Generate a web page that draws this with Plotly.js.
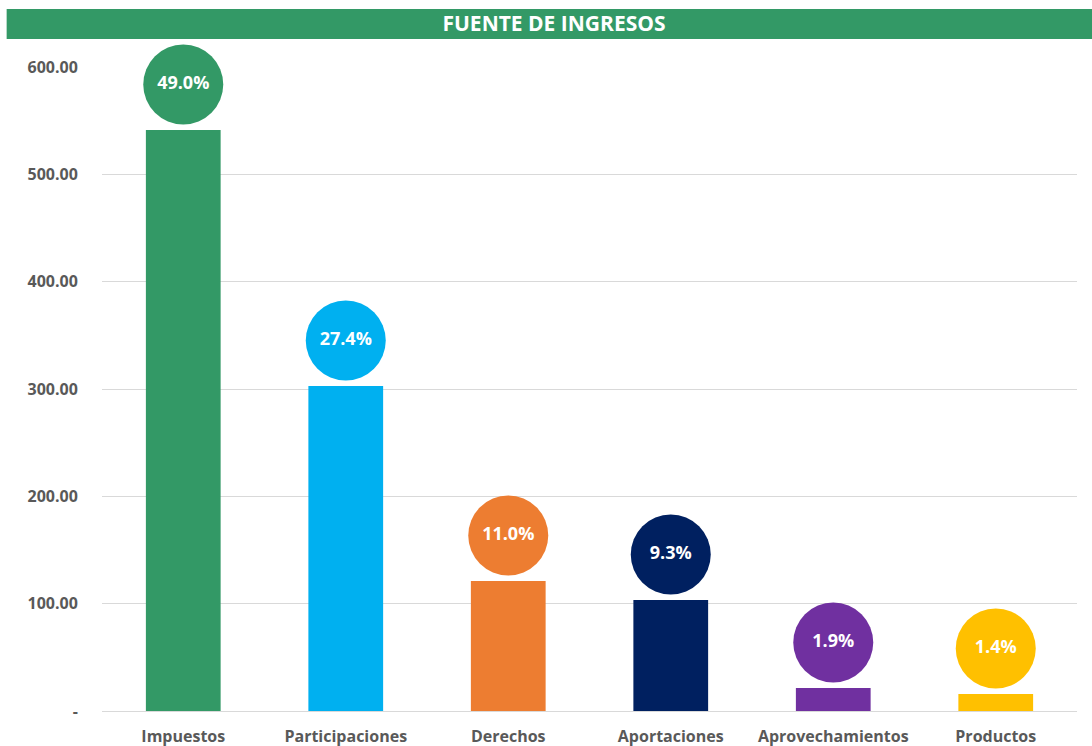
<!DOCTYPE html>
<html>
<head>
<meta charset="utf-8">
<script src="https://cdn.plot.ly/plotly-3.0.1.min.js"></script>
<style>html,body{margin:0;padding:0;background:#fff;}#chart{width:1092px;height:746px;}</style>
</head>
<body>
<div id="chart"></div>
<script>
const categories = ["Impuestos", "Participaciones", "Derechos", "Aportaciones", "Aprovechamientos", "Productos"];
const values = [541.3, 302.8, 121.1, 103.4, 21.4, 15.8];
const percentLabels = ["49.0%", "27.4%", "11.0%", "9.3%", "1.9%", "1.4%"];
const colors = ["#339966", "#00B0F0", "#ED7D31", "#002060", "#7030A0", "#FFC000"];
const yTickVals = [0, 100, 200, 300, 400, 500, 600];
const yTickText = ["-", "100.00", "200.00", "300.00", "400.00", "500.00", "600.00"];

const FONT = "'Open Sans', Lato, sans-serif";
const circleOffset = 42.4; // data units above bar top (~45px)

const bars = {
  type: "bar",
  x: categories,
  y: values,
  marker: {color: colors},
  hoverinfo: "x+y",
  cliponaxis: false
};
const circles = {
  type: "scatter",
  mode: "markers+text",
  x: categories,
  y: values.map(v => v + circleOffset),
  text: percentLabels,
  textposition: "middle center",
  textfont: {family: FONT, size: 18, color: "#ffffff", weight: "bold"},
  marker: {color: colors, size: 80, line: {width: 0}},
  cliponaxis: false,
  hoverinfo: "text"
};

const layout = {
  width: 1092, height: 746,
  margin: {l: 102, r: 15, t: 67, b: 35},
  paper_bgcolor: "#ffffff",
  plot_bgcolor: "#ffffff",
  showlegend: false,
  bargap: 0.54,
  title: {
    text: "<b>FUENTE DE INGRESOS</b>",
    font: {family: FONT, size: 21, color: "#ffffff"},
    xref: "paper", x: 0.4636, xanchor: "center",
    yref: "container", y: 1 - 24/746, yanchor: "middle"
  },
  shapes: [{
    type: "rect", xref: "paper", yref: "paper",
    x0: -0.0978, x1: 1.02, y0: 1.0435, y1: 1.0901,
    fillcolor: "#339966", line: {width: 0}, layer: "below"
  }],
  xaxis: {
    type: "category",
    range: [-0.5, 5.5],
    tickfont: {family: FONT, size: 16, color: "#595959", weight: "bold"},
    ticks: "outside", ticklen: 11, tickcolor: "rgba(0,0,0,0)",
    showline: false, showgrid: false, zeroline: false, fixedrange: true
  },
  yaxis: {
    range: [0, 600],
    tickvals: yTickVals, ticktext: yTickText,
    tickfont: {family: FONT, size: 16, color: "#595959", weight: "bold"},
    ticks: "outside", ticklen: 20, tickcolor: "rgba(0,0,0,0)",
    showgrid: true, gridcolor: "#d9d9d9", gridwidth: 1,
    zeroline: true, zerolinecolor: "#d9d9d9", zerolinewidth: 1,
    showline: false, fixedrange: true
  }
};

Plotly.newPlot("chart", [bars, circles], layout, {displayModeBar: false, staticPlot: true});
</script>
</body>
</html>
